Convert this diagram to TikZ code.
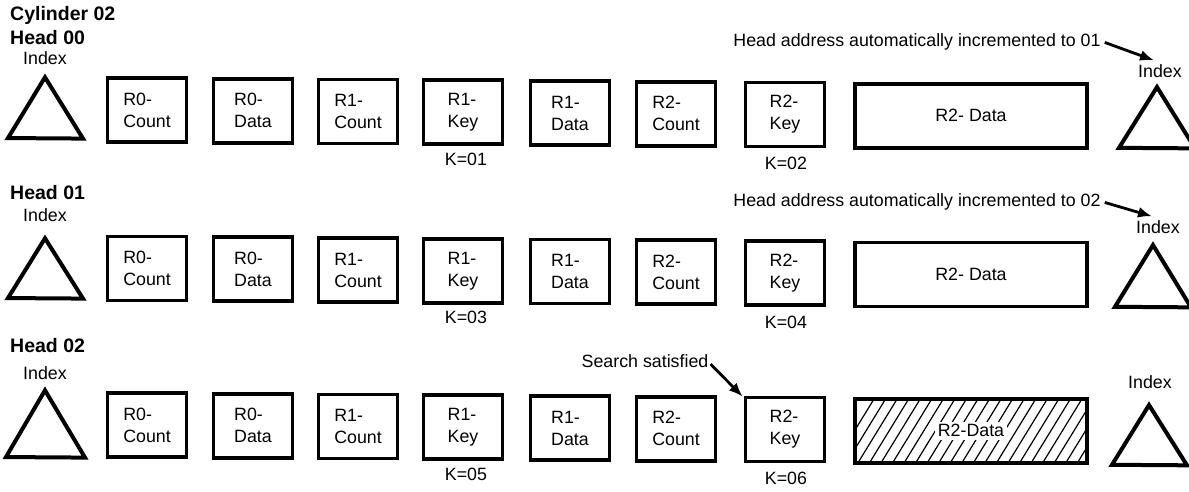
\documentclass[tikz,border=0pt]{standalone}
\usepackage{fontspec}
\setmainfont{Liberation Sans}
\usetikzlibrary{arrows.meta}
\begin{document}
\begin{tikzpicture}[x=1pt,y=-1pt,
  rec/.style={draw, line width=3.6pt, minimum width=79pt, minimum height=64pt, align=left, inner sep=0pt, font=\fontsize{17.8}{22}\selectfont},
  wide/.style={rec, minimum width=232pt, align=center},
  lbl/.style={font=\fontsize{17.8}{21}\selectfont, inner sep=1pt},
  hd/.style={font=\bfseries\fontsize{19.5}{22}\selectfont, anchor=west, inner sep=0pt},
  tri/.style={line width=4pt, line join=miter},
  hatch/.style={line width=1.2pt},
  arr/.style={line width=2.8pt, -{Latex[length=14pt,width=11pt]}}]
\useasboundingbox (0,0) rectangle (1189,492);
\begin{scope}[yslant=-0.007]
% headings
\node[hd] (cyl) at (10,15) {Cylinder 02};
\node[hd] (h0) at (10,37) {Head 00};
\node[hd] (h1) at (10,192) {Head 01};
\node[hd] (h2) at (10,345) {Head 02};
% left index
\node[lbl] (il1) at (45,58) {Index};
\node[lbl] (il2) at (45,215) {Index};
\node[lbl] (il3) at (45,373) {Index};
\draw[tri] (45,77) -- (8,138) -- (83,138) -- cycle;
\draw[tri] (45,238) -- (8,298) -- (83,298) -- cycle;
\draw[tri] (45,390) -- (6,457) -- (85,457) -- cycle;
% right index
\node[lbl] (ir1) at (1160,63) {Index};
\node[lbl] (ir2) at (1158,219) {Index};
\node[lbl] (ir3) at (1150,374) {Index};
\draw[tri] (1157,79) -- (1119,140) -- (1195,140) -- cycle;
\draw[tri] (1153,237) -- (1115,299) -- (1191,299) -- cycle;
\draw[tri] (1149,397) -- (1112,457) -- (1187,457) -- cycle;
% record boxes
\foreach \r/\y/\ka/\kb in {1/109/01/02, 2/267.5/03/04, 3/424/05/06} {
  \node[rec] (ca\r) at (147,\y) {R0-\\Count};
  \node[rec] (da\r) at (253,\y) {R0-\\Data};
  \node[rec] (cb\r) at (358,\y) {R1-\\Count};
  \node[rec] (kb\r) at (463,\y) {R1-\\Key};
  \node[rec] (db\r) at (570,\y) {R1-\\Data};
  \node[rec] (cc\r) at (676,\y) {R2-\\Count};
  \node[rec] (kc\r) at (785,\y) {R2-\\Key};
  \node[lbl] (ka\r) at (466,\y+47) {K=\ka};
  \node[lbl] (kk\r) at (786,\y+49) {K=\kb};
}
\node[wide] (dc1) at (971,109) {R2- Data};
\node[wide] (dc2) at (971,267.5) {R2- Data};
% hatched data field
\begin{scope}
  \clip (855,392) rectangle (1087,456);
  \foreach \i in {0,...,25} {
    \draw[hatch] (833+11.5*\i,460) -- ++(44,-72);
  }
\end{scope}
\node[wide] (dc3) at (971,424) {};
\node[lbl, fill=white, inner sep=3pt] (dt3) at (dc3.center) {R2-Data};
% notes and arrows
\node[lbl] (ha1) at (917,35) {Head address automatically incremented to 01};
\node[lbl] (ha2) at (917,195) {Head address automatically incremented to 02};
\node[lbl] (ss) at (645,356.5) {Search satisfied};
\draw[arr] ([xshift=3pt,yshift=-1pt]ha1.east) -- ([xshift=-6pt,yshift=3pt]ir1.north);
\draw[arr] ([xshift=3pt,yshift=-1pt]ha2.east) -- ([xshift=-6pt,yshift=3pt]ir2.north);
\draw[arr] ([xshift=1pt,yshift=-3pt]ss.east) -- ([xshift=-1pt,yshift=-1pt]kc3.north west);
\end{scope}
\end{tikzpicture}
\end{document}
